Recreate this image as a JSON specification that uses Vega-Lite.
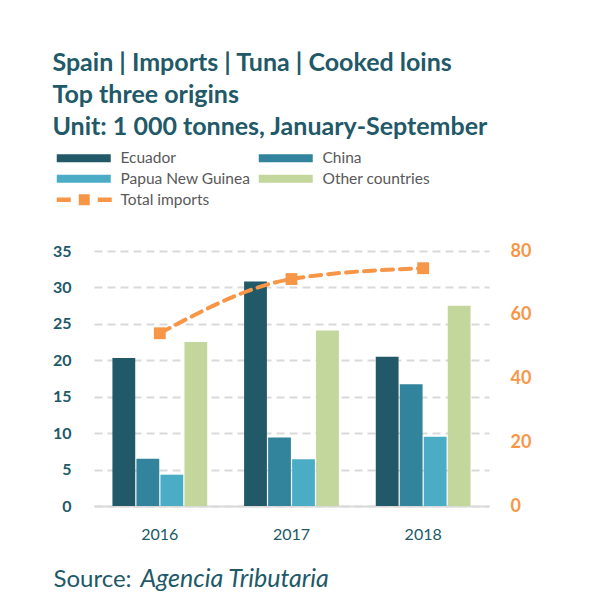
{
  "$schema": "https://vega.github.io/schema/vega-lite/v6.json",
  "width": 395,
  "height": 255,
  "padding": {"left": 52, "top": 51, "right": 10, "bottom": 5},
  "background": "white",
  "config": {"font": "Lato", "view": {"stroke": null}},
  "title": {
    "text": ["Spain | Imports | Tuna | Cooked loins", "Top three origins", "Unit: 1 000 tonnes, January-September"],
    "anchor": "start",
    "frame": "bounds",
    "fontSize": 25,
    "fontWeight": "bold",
    "color": "#215968",
    "lineHeight": 32,
    "offset": 10,
    "font": "Lato"
  },
  "datasets": {
    "imports": [
      {"year": "2016", "origin": "Ecuador", "value": 20.3},
      {"year": "2016", "origin": "China", "value": 6.5},
      {"year": "2016", "origin": "Papua New Guinea", "value": 4.3},
      {"year": "2016", "origin": "Other countries", "value": 22.5},
      {"year": "2017", "origin": "Ecuador", "value": 30.8},
      {"year": "2017", "origin": "China", "value": 9.4},
      {"year": "2017", "origin": "Papua New Guinea", "value": 6.4},
      {"year": "2017", "origin": "Other countries", "value": 24.1},
      {"year": "2018", "origin": "Ecuador", "value": 20.5},
      {"year": "2018", "origin": "China", "value": 16.7},
      {"year": "2018", "origin": "Papua New Guinea", "value": 9.5},
      {"year": "2018", "origin": "Other countries", "value": 27.5}
    ],
    "totals": [
      {"year": "2016", "total": 54.2},
      {"year": "2017", "total": 71.2},
      {"year": "2018", "total": 74.6}
    ]
  },
  "layer": [
    {
      "data": {"name": "imports"},
      "mark": {"type": "bar"},
      "encoding": {
        "x": {
          "field": "year", "type": "nominal",
          "scale": {"paddingInner": 0.28, "paddingOuter": 0.14},
          "axis": {
            "title": "Source:", "labelAngle": 0, "labelFontSize": 16, "labelColor": "#215968", "labelPadding": 20,
            "ticks": false, "domain": true, "domainColor": "#d9d9d9", "domainWidth": 2, "grid": false,
            "titleFontSize": 24, "titleFontWeight": "normal", "titleColor": "#215968",
            "titleX": -41, "titleY": 80, "titleAnchor": "start", "titleAlign": "left", "titleBaseline": "alphabetic"
          }
        },
        "xOffset": {
          "field": "origin", "type": "nominal",
          "sort": ["Ecuador", "China", "Papua New Guinea", "Other countries"],
          "scale": {"paddingInner": 0.05}
        },
        "y": {
          "field": "value", "type": "quantitative",
          "scale": {"domain": [0, 35], "nice": false},
          "axis": {
            "title": null, "values": [0, 5, 10, 15, 20, 25, 30, 35],
            "labelFontSize": 16, "labelFontWeight": "bold", "labelColor": "#215968", "labelPadding": 23,
            "ticks": false, "domain": false, "grid": true, "gridColor": "#d9d9d9", "gridDash": [8, 5], "gridWidth": 2
          }
        },
        "color": {
          "field": "origin", "type": "nominal",
          "scale": {
            "domain": ["Ecuador", "Papua New Guinea", "China", "Other countries"],
            "range": ["#215968", "#4bacc6", "#31849b", "#c3d69b"]
          },
          "legend": {
            "title": null, "orient": "none", "legendX": -40, "legendY": -101, "columns": 2,
            "symbolType": "M-1,-0.8H9.8V0.8H-1Z", "symbolSize": 100, "symbolStrokeWidth": 0, "symbolOpacity": 1,
            "labelOffset": 51, "labelFontSize": 15.5, "labelColor": "#595959", "labelFont": "Lato",
            "rowPadding": 4, "columnPadding": 5
          }
        }
      }
    },
    {
      "data": {"name": "totals"},
      "encoding": {
        "x": {
          "field": "year", "type": "nominal",
          "axis": {
            "orient": "bottom", "title": "Agencia Tributaria", "labels": false, "ticks": false, "domain": false, "grid": false,
            "titleFontStyle": "italic", "titleFontSize": 25, "titleFontWeight": "normal", "titleColor": "#215968",
            "titleX": 46, "titleY": 80, "titleAnchor": "start", "titleAlign": "left", "titleBaseline": "alphabetic"
          }
        },
        "y": {
          "field": "total", "type": "quantitative",
          "scale": {"domain": [0, 80], "nice": false},
          "axis": {
            "orient": "right", "title": null, "values": [0, 20, 40, 60, 80],
            "labelFontSize": 18, "labelFontWeight": "bold", "labelColor": "#f79646", "labelPadding": 21,
            "ticks": false, "domain": false, "grid": false
          }
        }
      },
      "layer": [
        {
          "mark": {"type": "line", "color": "#f79646", "strokeWidth": 4, "strokeDash": [11, 7], "strokeCap": "round", "interpolate": "monotone"}
        },
        {
          "mark": {"type": "point", "shape": "square", "filled": true, "size": 140, "opacity": 1},
          "encoding": {
            "color": {
              "datum": "Total imports",
              "scale": {"domain": ["Total imports"], "range": ["#f79646"]},
              "legend": {
                "title": null, "orient": "none", "legendX": -40, "legendY": -59,
                "symbolType": "M-1,-0.45H1.8V0.45H-1Z M3.4,-1.1H5.6V1.1H3.4Z M7.2,-0.45H10V0.45H7.2Z",
                "symbolSize": 100, "symbolStrokeWidth": 0, "symbolOpacity": 1, "symbolFillColor": "#f79646",
                "labelOffset": 51, "labelFontSize": 15.5, "labelColor": "#595959", "labelFont": "Lato"
              }
            }
          }
        }
      ]
    }
  ],
  "resolve": {"scale": {"y": "independent", "color": "independent"}, "axis": {"x": "independent"}}
}
